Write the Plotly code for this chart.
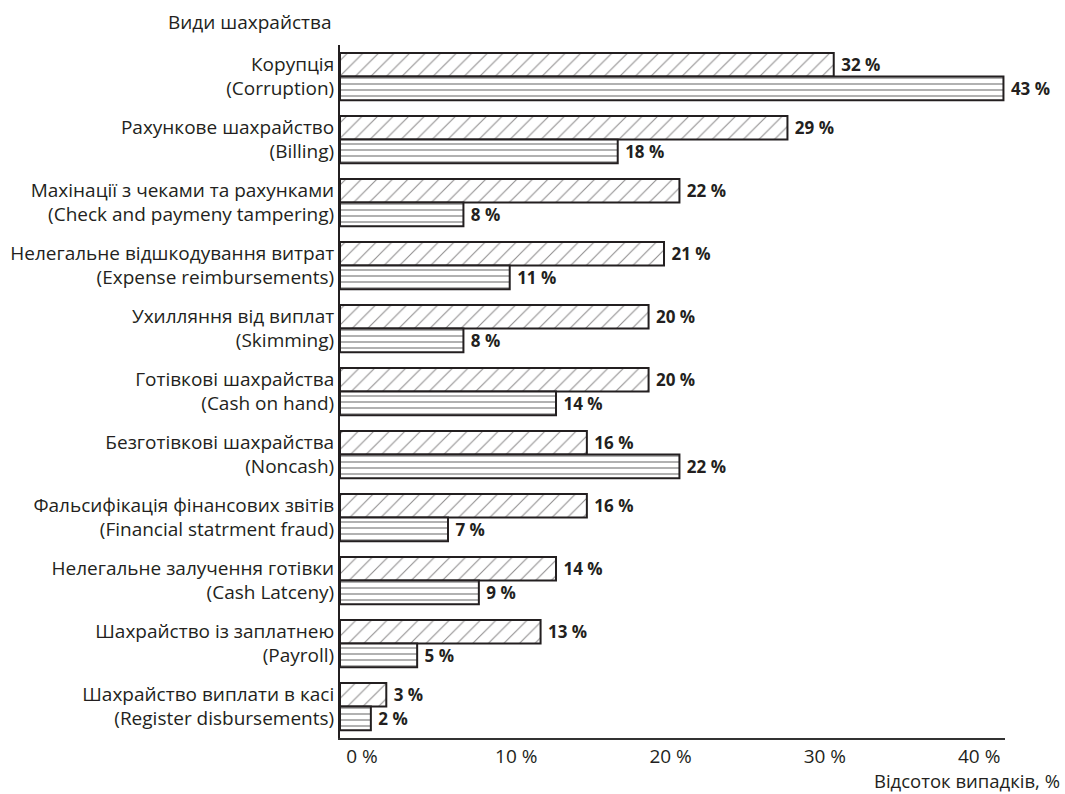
import plotly.graph_objects as go

categories = [
    "Корупція<br>(Corruption)",
    "Рахункове шахрайство<br>(Billing)",
    "Махінації з чеками та рахунками<br>(Check and paymeny tampering)",
    "Нелегальне відшкодування витрат<br>(Expense reimbursements)",
    "Ухилляння від виплат<br>(Skimming)",
    "Готівкові шахрайства<br>(Cash on hand)",
    "Безготівкові шахрайства<br>(Noncash)",
    "Фальсифікація фінансових звітів<br>(Financial statrment fraud)",
    "Нелегальне залучення готівки<br>(Cash Latceny)",
    "Шахрайство із заплатнею<br>(Payroll)",
    "Шахрайство виплати в касі<br>(Register disbursements)",
]
series_a = [32, 29, 22, 21, 20, 20, 16, 16, 14, 13, 3]
series_b = [43, 18, 8, 11, 8, 14, 22, 7, 9, 5, 2]
tick_vals = [0, 10, 20, 30, 40]
tick_text = ["0 %", "10 %", "20 %", "30 %", "40 %"]

FONT = "Open Sans"
INK = "#231f20"

fig = go.Figure()
fig.add_trace(go.Bar(
    y=categories, x=series_a, orientation="h", name="A",
    marker=dict(color="white", line=dict(color=INK, width=2),
                pattern=dict(shape="/", size=11, solidity=0.1, fgcolor=INK, bgcolor="white")),
    text=[f" {v} %" for v in series_a], textposition="outside",
    textfont=dict(family=FONT, size=17, color=INK, weight="bold"),
    cliponaxis=False,
))
fig.add_trace(go.Bar(
    y=categories, x=series_b, orientation="h", name="B",
    marker=dict(color="white", line=dict(color=INK, width=2),
                pattern=dict(shape="-", size=6, solidity=0.28, fgcolor="#444", bgcolor="white")),
    text=[f" {v} %" for v in series_b], textposition="outside",
    textfont=dict(family=FONT, size=17, color=INK, weight="bold"),
    cliponaxis=False,
))

fig.update_layout(
    width=1065, height=794,
    margin=dict(l=340, r=60, t=45, b=56),
    barmode="group", bargap=0.25, bargroupgap=0,
    plot_bgcolor="white", paper_bgcolor="white",
    showlegend=False,
    font=dict(family=FONT, size=19, color=INK),
    uniformtext=dict(mode=False),
)
fig.update_xaxes(
    range=[0, 43.1], tickvals=tick_vals, ticktext=tick_text, automargin=False,
    showgrid=False, zeroline=False, showline=True, linecolor="#333", linewidth=2,
    ticks="", ticklabelshift=22, tickfont=dict(family=FONT, size=19, color=INK),
)
fig.update_yaxes(
    autorange="reversed", showgrid=False, zeroline=False, automargin=False,
    showline=True, linecolor=INK, linewidth=2, ticks="",
    tickfont=dict(family=FONT, size=19, color=INK),
)
fig.add_annotation(text="Види шахрайства", xref="paper", yref="paper",
                   x=-0.011, y=1.012, xanchor="right", yanchor="bottom",
                   showarrow=False, font=dict(family=FONT, size=19, color=INK))
fig.add_annotation(text="Відсоток випадків, %", xref="paper", yref="paper",
                   x=1.086, y=-0.04, xanchor="right", yanchor="top",
                   showarrow=False, font=dict(family=FONT, size=18.5, color=INK))

fig.write_html("out.html")
